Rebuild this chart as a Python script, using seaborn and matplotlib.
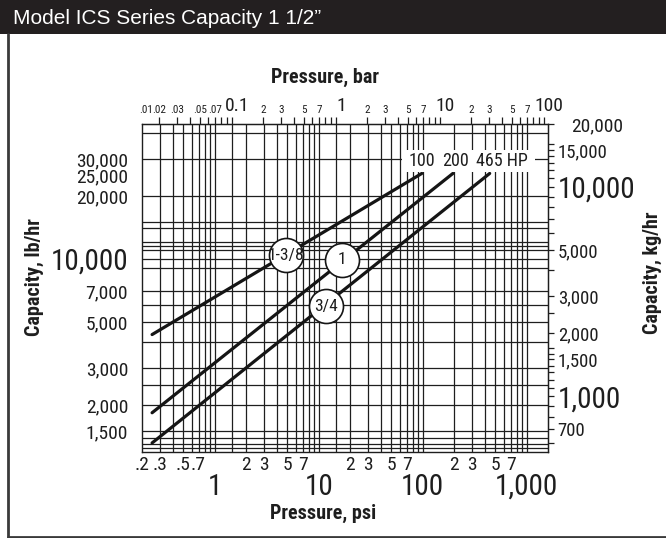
import numpy as np
import pandas as pd
import matplotlib
matplotlib.use("Agg")
import matplotlib.pyplot as plt
import seaborn as sns
from matplotlib.ticker import NullLocator, NullFormatter
from matplotlib.lines import Line2D
from matplotlib.patches import Rectangle
from matplotlib.transforms import ScaledTranslation
from matplotlib import font_manager
from matplotlib.font_manager import FontProperties

# ---------------- data ----------------
valve_sizes = ["1-3/8", "1", "3/4"]
start_psi = [0.25, 0.25, 0.25]
end_psi = [98, 195, 440]
start_lb = [4350, 1840, 1320]
end_lb = [25600, 25600, 25600]
end_labels = ["100", "200", "465 HP"]
end_label_dx = [0, 2, 9]          # text offsets (points)

badge_psi = [4.8, 16.6, 11.7]
badge_lb = [10400, 9900, 5950]

# horizontal / vertical rules of the printed grid
h_rules_lb = [1250, 1300, 1400, 1500, 2000, 2500, 3000, 4000, 5000, 6000, 7000,
              9000, 10000, 11000, 11500, 12000, 14000, 15000, 20000, 30000, 40000]
v_rules_psi = [0.3, 0.4, 0.5, 0.6, 0.7, 0.8, 0.9,
               1, 2, 3, 4, 5, 6, 7, 8, 9,
               10, 20, 30, 40, 50, 60, 70, 80, 90,
               100, 200, 300, 400, 500, 600, 700, 800, 900, 1000]
v_rules_bar = [0.1, 1]

# axes ticks
left_ticks = [1500, 2000, 3000, 5000, 7000, 10000, 20000, 25000, 30000]
left_labels = ["1,500", "2,000", "3,000", "5,000", "7,000", "10,000",
               "20,000", "25,000", "30,000"]
right_major_kg = [700, 1000, 1500, 2000, 3000, 5000, 10000, 15000, 20000]
right_major_labels = ["700", "1,000", "1,500", "2,000", "3,000", "5,000",
                      "10,000", "15,000", "20,000"]
right_minor_kg = [600, 800, 900, 1100, 1200, 1300, 1400, 1600, 1700, 2500,
                  4000, 6000, 7000, 8000, 9000, 11000, 12000, 13000, 14000, 16000]
bottom_major_psi = [1, 10, 100, 1000]
bottom_major_labels = ["1", "10", "100", "1,000"]
bottom_minor_psi = [0.2, 0.3, 0.5, 0.7, 2, 3, 5, 7, 20, 30, 50, 70, 200, 300, 500, 700]
bottom_minor_labels = [".2", ".3", ".5", ".7", "2", "3", "5", "7",
                       "2", "3", "5", "7", "2", "3", "5", "7"]
top_major_bar = [0.1, 1, 10, 100]
top_major_labels = ["0.1", "1", "10", "100"]
top_minor_bar = [0.02, 0.03, 0.04, 0.05, 0.06, 0.07, 0.08, 0.09,
                 0.2, 0.3, 0.4, 0.5, 0.6, 0.7, 0.8, 0.9,
                 2, 3, 4, 5, 6, 7, 8, 9,
                 20, 30, 40, 50, 60, 70, 80, 90]
top_minor_labels = [".02", ".03", "", ".05", "", ".07", "", "",
                    "2", "3", "", "5", "", "7", "", "",
                    "2", "3", "", "5", "", "7", "", "",
                    "2", "3", "", "5", "", "7", "", ""]

PSI_PER_BAR = 14.5038
KG_PER_LB = 0.453592

# ---------------- fonts ----------------
sns.set_style("white")


def _wnum(w):
    if isinstance(w, (int, float)):
        return w
    return font_manager.weight_dict.get(str(w), 400)


def find_narrow(bold):
    prefs = ["liberation sans narrow", "roboto condensed", "dejavu sans",
             "open sans", "noto sans", "roboto", "lato", "inter"]
    best = None
    for e in font_manager.fontManager.ttflist:
        nm = e.name.lower()
        fn = e.fname.lower()
        st = str(e.stretch)
        narrow = ("narrow" in nm or "condensed" in nm or "narrow" in fn or
                  "condensed" in fn or st in ("condensed", "semi-condensed",
                                              "extra-condensed"))
        if not narrow or e.style != "normal" or "cjk" in nm or "mono" in nm:
            continue
        w = _wnum(e.weight)
        if bold and not (600 <= w <= 800):
            continue
        if not bold and not (350 <= w <= 500):
            continue
        rank = len(prefs)
        for i, p in enumerate(prefs):
            if nm.startswith(p):
                rank = i
                break
        if best is None or rank < best[0]:
            best = (rank, e.fname)
    return best[1] if best else None


NARROW_R = find_narrow(False)
NARROW_B = find_narrow(True)
FOUND = NARROW_R is not None
K = 1.0 if FOUND else 0.84


def fp(size, bold=False):
    path = NARROW_B if bold else NARROW_R
    if path:
        f = FontProperties(fname=path)
    else:
        f = FontProperties(family=["Liberation Sans", "DejaVu Sans"],
                           weight="bold" if bold else "normal")
    f.set_size(size * K)
    return f


INK = "#1e1e1e"

# ---------------- figure ----------------
W, H = 666, 538
fig = plt.figure(figsize=(W / 100, H / 100), dpi=100)
fig.patch.set_facecolor("white")

# title bar and frame
fig.patches.append(Rectangle((0, 1 - 34 / H), 1, 34 / H, transform=fig.transFigure,
                             facecolor="#231f20", edgecolor="none", zorder=0))
fig.text(13 / W, 1 - 18 / H, "Model ICS Series Capacity 1 1/2\u201d", color="white",
         fontsize=15, ha="left", va="center", family=["Liberation Sans", "DejaVu Sans"])
fig.lines.append(Line2D([8 / W, 8 / W], [1 / H, 1 - 34 / H], transform=fig.transFigure,
                        color="#3a3a3a", lw=2))
fig.lines.append(Line2D([8 / W, 1], [1 / H, 1 / H], transform=fig.transFigure,
                        color="#3a3a3a", lw=2))

ax = fig.add_axes([142 / W, 86 / H, 406 / W, 328 / H])
ax.set_xscale("log")
ax.set_yscale("log")
ax.set_xlim(0.2, 1600)
ax.set_ylim(1195, 44100)

# grid rules
for v in v_rules_psi:
    ax.axvline(v, color=INK, lw=0.9, zorder=1)
for b in v_rules_bar:
    ax.axvline(b * PSI_PER_BAR, color=INK, lw=0.9, zorder=1)
for h in h_rules_lb:
    ax.axhline(h, color=INK, lw=0.9, zorder=1)

# capacity lines
rows = []
for s, p0, p1, l0, l1 in zip(valve_sizes, start_psi, end_psi, start_lb, end_lb):
    rows.append({"size": s, "psi": p0, "lb": l0})
    rows.append({"size": s, "psi": p1, "lb": l1})
df = pd.DataFrame(rows)
sns.lineplot(data=df, x="psi", y="lb", hue="size", units="size", estimator=None,
             palette={s: "#151515" for s in valve_sizes}, linewidth=2.3,
             legend=False, sort=False, ax=ax, zorder=3)

# end labels on a white band (wide, flat boxes)
for p, l, txt, dx in zip(end_psi, end_lb, end_labels, end_label_dx):
    ax.annotate(txt, xy=(p, l), xytext=(dx, 9), textcoords="offset points",
                ha="center", va="center", fontproperties=fp(13), color=INK,
                zorder=5,
                bbox=dict(boxstyle="square,pad=0.38", mutation_aspect=0.35,
                          fc="white", ec="none"))

# size badges
ax.scatter(badge_psi, badge_lb, s=600, facecolor="white", edgecolor="#151515",
           linewidth=1.2, zorder=4)
for p, l, s in zip(badge_psi, badge_lb, valve_sizes):
    ax.text(p, l, s, ha="center", va="center", fontproperties=fp(12.5),
            color=INK, zorder=5)

ax.set_xlabel("")
ax.set_ylabel("")
for sp in ax.spines.values():
    sp.set_visible(True)
    sp.set_color(INK)
    sp.set_linewidth(1.0)

# bottom psi axis
ax.set_xticks(bottom_major_psi, bottom_major_labels)
ax.set_xticks(bottom_minor_psi, bottom_minor_labels, minor=True)
ax.tick_params(axis="x", which="major", length=0, pad=15, colors=INK)
ax.tick_params(axis="x", which="minor", length=0, pad=3, colors=INK)
for t in ax.get_xticklabels():
    t.set_fontproperties(fp(21))
for t in ax.get_xticklabels(minor=True):
    t.set_fontproperties(fp(14))

# left lb axis
ax.set_yticks(left_ticks, left_labels)
ax.yaxis.set_minor_locator(NullLocator())
ax.tick_params(axis="y", which="major", length=0, pad=10, colors=INK)
for t in ax.get_yticklabels():
    t.set_fontproperties(fp(21 if t.get_text() == "10,000" else 14))

# top bar axis
sx = ax.secondary_xaxis("top", functions=(lambda p: p / PSI_PER_BAR,
                                          lambda b: b * PSI_PER_BAR))
sx.set_xticks(top_major_bar, top_major_labels)
sx.set_xticks(top_minor_bar, top_minor_labels, minor=True)
sx.tick_params(axis="x", which="both", direction="out", length=5, width=0.9,
               color=INK, pad=1.5, labelcolor=INK)
shift = ScaledTranslation(4 / 72, 0, fig.dpi_scale_trans)
for t in sx.get_xticklabels():
    t.set_fontproperties(fp(14))
    t.set_transform(t.get_transform() + shift)
for t in sx.get_xticklabels(minor=True):
    t.set_fontproperties(fp(8))
sx.spines["top"].set_color(INK)
ax.text(0.0095, 1.027, ".01", transform=ax.transAxes, fontproperties=fp(8),
        ha="center", va="bottom", color=INK)

# right kg axis
sy = ax.secondary_yaxis("right", functions=(lambda lb: lb * KG_PER_LB,
                                            lambda kg: kg / KG_PER_LB))
sy.set_yticks(right_major_kg, right_major_labels)
sy.set_yticks(right_minor_kg, minor=True)
sy.yaxis.set_minor_formatter(NullFormatter())
sy.tick_params(axis="y", which="both", direction="out", length=4.5, width=0.9,
               color=INK, pad=2.5, labelcolor=INK)
sizes_r = {"10,000": 21, "1,000": 21, "20,000": 14}
for t in sy.get_yticklabels():
    t.set_fontproperties(fp(sizes_r.get(t.get_text(), 13.5)))
ticks = sy.yaxis.get_major_ticks()
if len(ticks) == len(right_major_kg):
    idx = right_major_kg.index(20000)
    ticks[idx].tick2line.set_markersize(13)
    ticks[idx].set_pad(12)
sy.spines["right"].set_color(INK)

# axis titles
fig.text(325 / W, 1 - 77 / H, "Pressure, bar", ha="center", va="center",
         fontproperties=fp(14.5, True), color=INK)
fig.text(323 / W, 1 - 513 / H, "Pressure, psi", ha="center", va="center",
         fontproperties=fp(14.5, True), color=INK)
fig.text(34 / W, 1 - 277 / H, "Capacity, lb/hr", ha="center", va="center",
         rotation=90, fontproperties=fp(14.5, True), color=INK)
fig.text(652 / W, 1 - 273 / H, "Capacity, kg/hr", ha="center", va="center",
         rotation=90, fontproperties=fp(14.5, True), color=INK)

fig.savefig("out.png", dpi=100)
